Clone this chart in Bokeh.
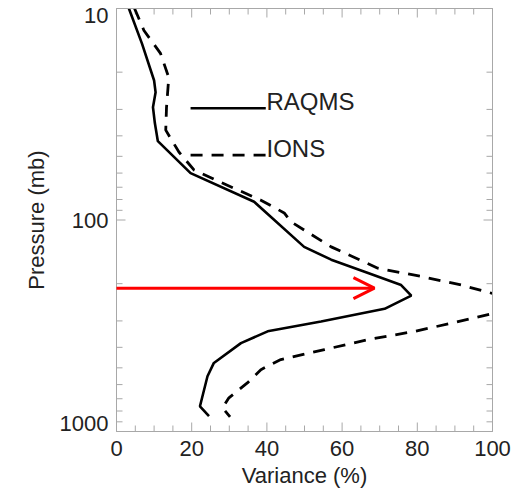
import math
from bokeh.plotting import figure
from bokeh.models import (Range1d, FixedTicker, LinearAxis, LogAxis, CustomJSTickFormatter,
                          Arrow, OpenHead)
from bokeh.core.properties import value
from bokeh.embed import file_html
from bokeh.resources import INLINE

# ---- data ----
raqms_p = [10, 14.7, 21.9, 24.9, 29.3, 34.8, 42.4, 60, 82, 134, 154, 178, 203, 228,
           263, 302, 336, 382, 474, 548, 760, 847]
raqms_var = [3.3, 6.8, 10.0, 10.4, 9.7, 10.2, 11.0, 19.7, 36.6, 49.9, 57.1, 66.9, 75.7, 78.4,
             71.3, 54.4, 40.2, 33.1, 25.9, 24.2, 22.2, 24.6]

ions_p = [10, 12.7, 16.3, 21.2, 29.3, 37.6, 47.7, 58.0, 66.3, 80.6, 92.6, 102, 134, 169, 185,
          203, 223, 250, 277, 305, 336, 368, 410, 457, 510, 589, 693, 773, 853]
ions_var = [4.8, 7.3, 11.7, 13.9, 13.3, 13.1, 16.6, 20.6, 27.7, 38.4, 44.6, 46.4, 57.1, 69.5, 81.1,
            91.7, 100.2, 110, 100, 90, 79.3, 66.9, 55.3, 43.7, 38.4, 34.8, 29.9, 28.2, 30.2]

series_names = ["RAQMS", "IONS"]

x_ticks = [0, 20, 40, 60, 80, 100]
x_minor = [v for v in range(5, 100, 5) if v % 20 != 0]
y_ticks = [10, 100, 1000]
y_tick_labels = ["10", "100", "1000"]
y_minor = [20, 30, 40, 50, 60, 70, 80, 90, 200, 300, 400, 500, 600, 700, 800, 900]

arrow_var = [-31, 68.6]
arrow_p = 210

legend_var = [19.7, 39.7]
legend_p = [29.6, 49.4]

X0, X1 = 0, 100
Y0, Y1 = 1000, 10

FONT = "Liberation Sans"
TXT = "#222222"
GRAY = "#a8a8a8"
DASH = "12 9"
BLANK = CustomJSTickFormatter(code="return ''")

p = figure(width=516, height=490, x_range=Range1d(X0, X1), y_range=Range1d(Y0, Y1),
           y_axis_type="log", output_backend="svg", toolbar_location=None,
           min_border_left=116, min_border_right=24, min_border_top=8, min_border_bottom=59)
p.background_fill_color = "white"
p.border_fill_color = "white"
p.outline_line_color = GRAY
p.grid.visible = False

def style_axis(ax):
    ax.axis_line_color = GRAY
    ax.major_tick_line_color = None
    ax.minor_tick_line_color = None
    ax.major_tick_in = 0
    ax.major_tick_out = 0
    ax.minor_tick_in = 0
    ax.minor_tick_out = 0
    ax.major_label_text_font = FONT
    ax.major_label_text_color = TXT
    ax.major_label_text_font_size = "22px"
    ax.axis_label_text_font = FONT
    ax.axis_label_text_color = TXT
    ax.axis_label_text_font_style = "normal"
    ax.axis_label_text_font_size = "22px"

xa = p.xaxis[0]
xa.ticker = FixedTicker(ticks=x_ticks, minor_ticks=x_minor)
xa.axis_label = "Variance (%)"
style_axis(xa)
xa.major_label_standoff = 9
xa.axis_label_standoff = 4

ya = p.yaxis[0]
ya.ticker = FixedTicker(ticks=y_ticks, minor_ticks=y_minor)
ya.formatter = BLANK
ya.axis_label = "Pressure (mb)"
style_axis(ya)
ya.major_label_standoff = 0
ya.axis_label_standoff = 68

top = LinearAxis(ticker=FixedTicker(ticks=x_ticks, minor_ticks=x_minor), formatter=BLANK)
style_axis(top)
top.major_label_standoff = 0
p.add_layout(top, "above")

right = LogAxis(ticker=FixedTicker(ticks=y_ticks, minor_ticks=y_minor), formatter=BLANK)
style_axis(right)
right.major_label_standoff = 0
p.add_layout(right, "right")

# inward tick marks on all four sides (dash markers centred on the frame edge, clipped by it)
for xs, size in ((x_ticks, 18), (x_minor, 12)):
    for yedge in (Y0, Y1):
        p.scatter(x=xs, y=[yedge] * len(xs), marker="dash", size=size, angle=math.pi / 2,
                  line_color=GRAY, line_width=1)
for ys, size in ((y_ticks, 18), (y_minor, 12)):
    for xedge in (X0, X1):
        p.scatter(x=[xedge] * len(ys), y=ys, marker="dash", size=size,
                  line_color=GRAY, line_width=1)

# y tick labels (placed like the reference: nudged inside the range at both ends)
p.text(x=[0] * 3, y=y_ticks, text=y_tick_labels, x_offset=-8, y_offset=[7, 0, -8],
       text_font=value(FONT), text_font_size="22px", text_color=TXT,
       text_align="right", text_baseline="middle", level="overlay")

# curves
p.line(raqms_var, raqms_p, line_color="black", line_width=2.6)
p.line(ions_var, ions_p, line_color="black", line_width=2.8, line_dash=DASH)

# legend drawn in the plot
p.line(legend_var, [legend_p[0]] * 2, line_color="black", line_width=2.6)
p.line(legend_var, [legend_p[1]] * 2, line_color="black", line_width=2.8, line_dash=DASH)
p.text(x=[legend_var[1] + 0.2] * 2, y=legend_p, text=series_names, y_offset=-7,
       text_font=value(FONT), text_font_size="24px", text_color=TXT,
       text_baseline="middle", text_align="left")

# red arrow
p.add_layout(Arrow(end=OpenHead(size=21, line_color="red", line_width=3),
                   x_start=arrow_var[0], y_start=arrow_p, x_end=arrow_var[1], y_end=arrow_p,
                   line_color="red", line_width=3))

open("out.html", "w").write(file_html(p, INLINE))
